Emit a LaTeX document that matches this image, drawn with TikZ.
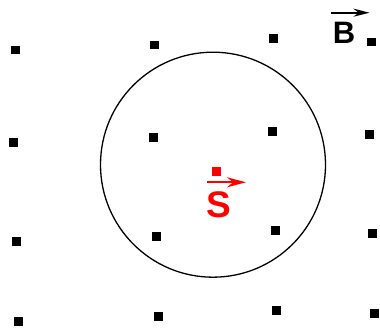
\documentclass[tikz,border=0pt]{standalone}
\usepackage{fontspec}
\setmainfont{Liberation Sans}
\usetikzlibrary{arrows.meta}
\tikzset{
  sq/.style={fill=black, inner sep=0pt, minimum size=8.5pt},
  lbl/.style={inner sep=0pt, font=\bfseries}
}
\begin{document}
\begin{tikzpicture}[x=1pt,y=-1pt]
    \useasboundingbox (0,0) rectangle (380,328);

    % Field points
    \foreach \n/\px/\py in {a/15.5/50, b/154.5/45, c/273.5/38.5, d/371.5/42,
                            e/13.3/142.3, f/153.3/137.3, g/272.7/131.3, h/369.3/134.3,
                            i/16.3/241.3, j/156.3/236.3, k/275.3/230.3, l/372.3/233.3,
                            m/18.3/321.3, n/158.3/316.3, o/276.3/310.3, p/374.3/313.3}
        \node[sq] (\n) at (\px,\py) {};

    % Loop
    \node[draw, circle, line width=1.3pt, minimum size=225pt, inner sep=0pt] (loop) at (213,164.7) {};

    % Field label
    \node[lbl, font=\fontsize{31}{31}\selectfont\bfseries] (B) at (344,33) {B};
    \coordinate (Bl) at (331,12.7);
    \coordinate (Br) at (369.5,12.7);
    \draw[line width=2pt, -{Stealth[length=16pt, width=8pt]}] (Bl) -- (Br);

    % Area vector
    \node[sq, fill=red, minimum size=8.3pt] (s) at (216.5,171.5) {};
    \node[lbl, red, font=\fontsize{37}{37}\selectfont\bfseries] (S) at (219.2,205) {S};
    \coordinate (Sl) at (207,182.3);
    \coordinate (Sr) at (246,182.3);
    \draw[red, line width=2pt, -{Stealth[length=19pt, width=10pt]}] (Sl) -- (Sr);
\end{tikzpicture}
\end{document}
